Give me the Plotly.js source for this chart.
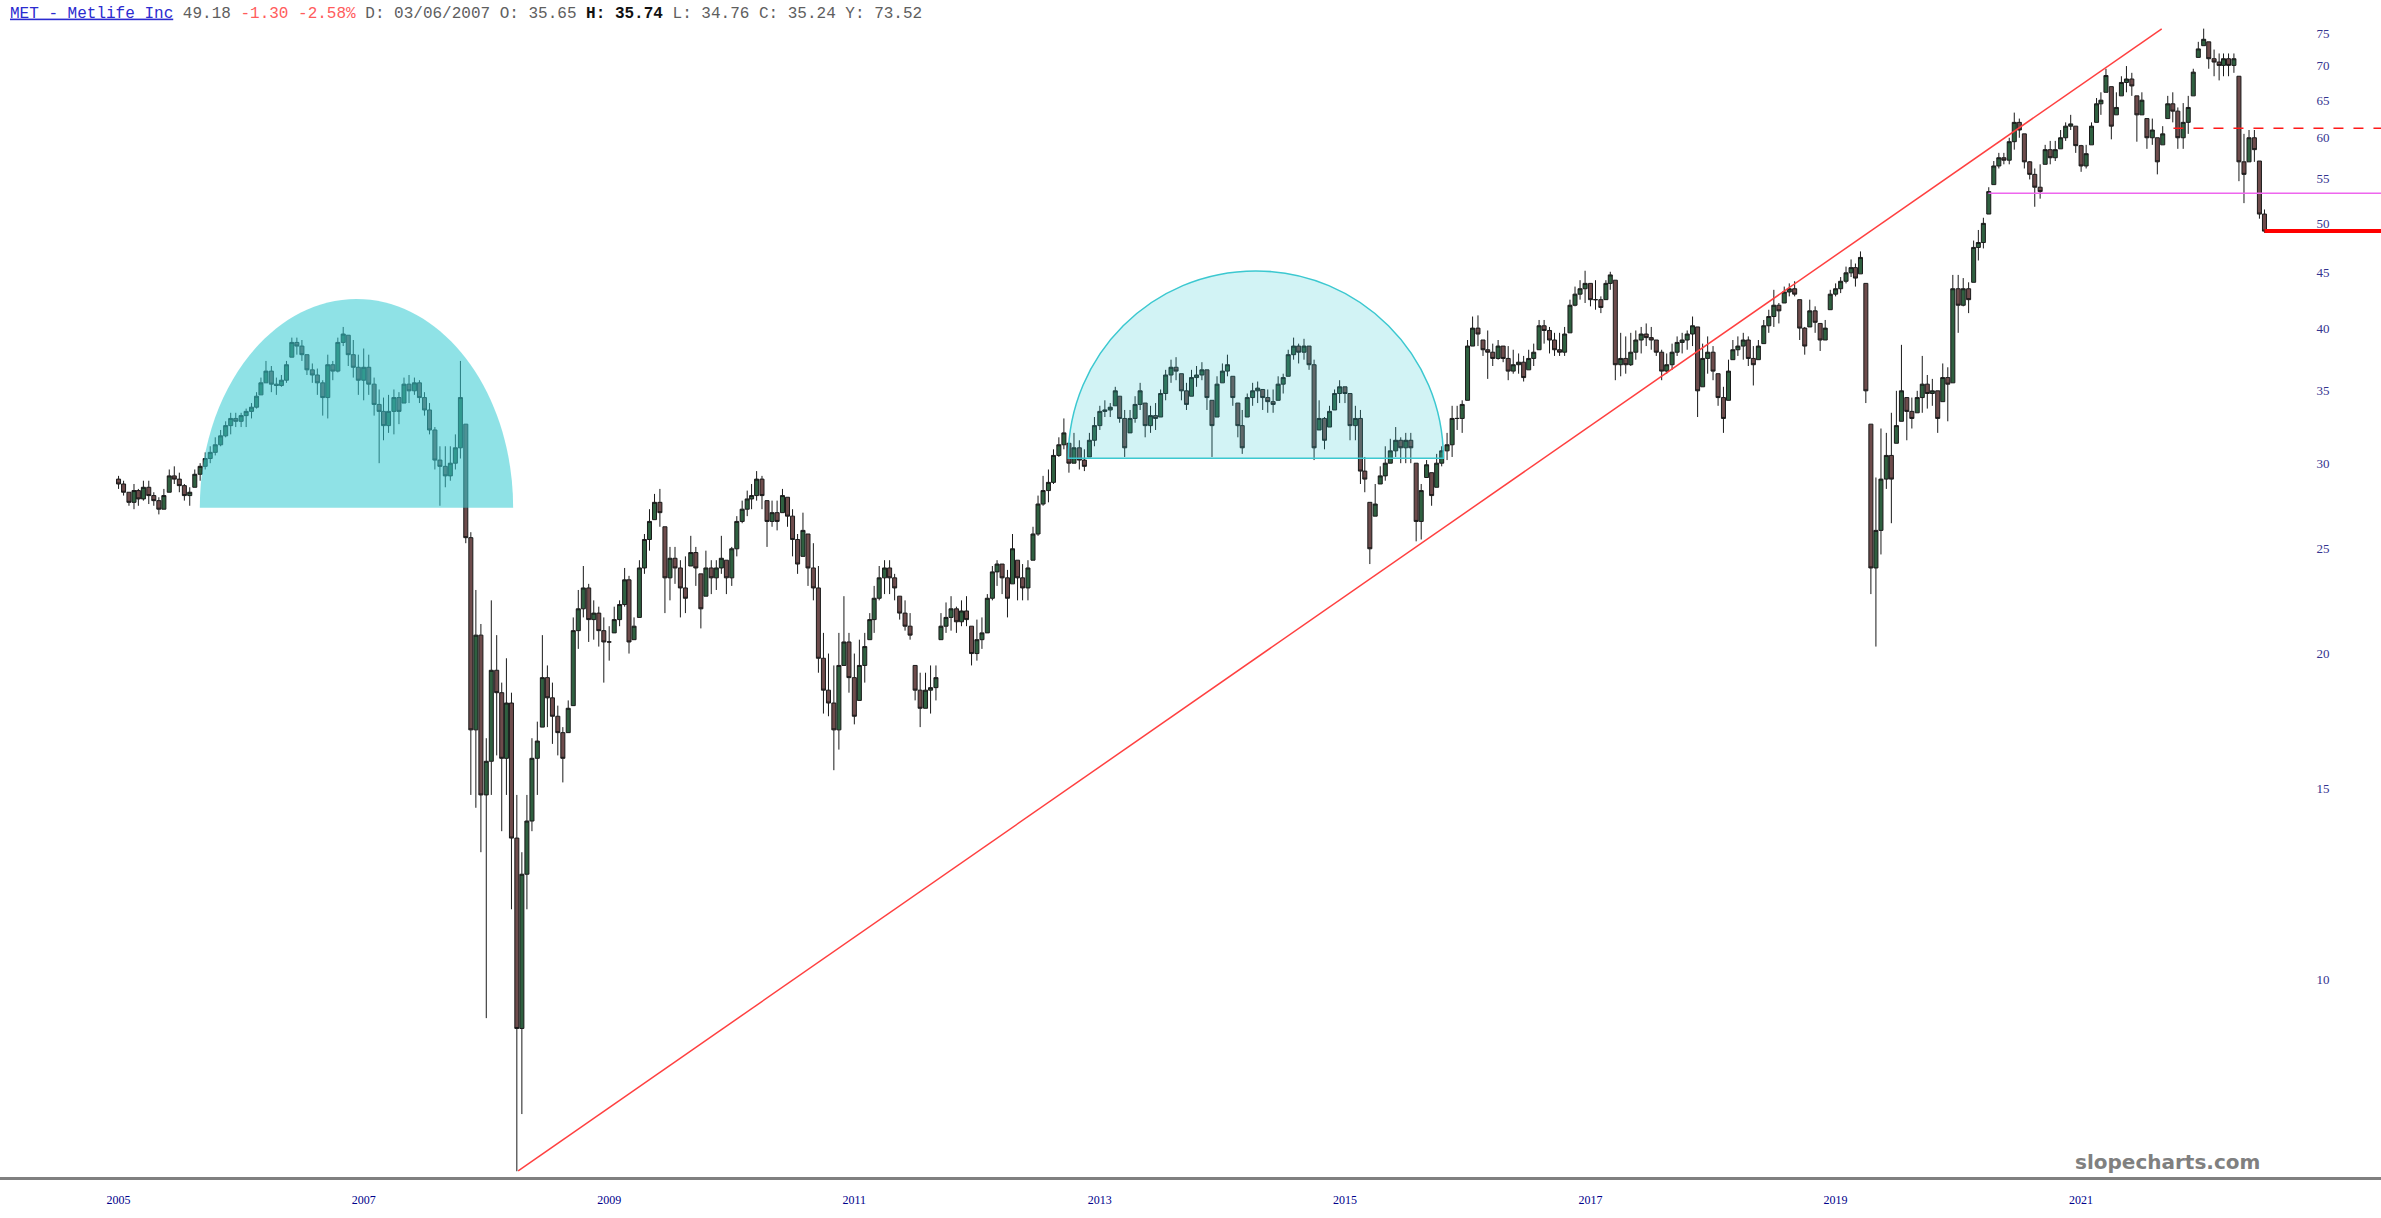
<!DOCTYPE html>
<html>
<head>
<meta charset="utf-8">
<script src="https://cdn.plot.ly/plotly-3.0.1.min.js"></script>
<style>
html,body{margin:0;padding:0;background:#ffffff;overflow:hidden}
#chart{width:2381px;height:1218px}
</style>
</head>
<body>
<div id="chart"></div>
<script>
// ---------- DATA ----------
// semi-monthly bars: 1st and 16th of each month, starting here
const firstBarDate = '2005-01-01';
const firstOpen = 29.0;

const barHigh = [
29.2,28.9,28.2,28.7,28.4,28.9,28.9,28.2,27.9,28.4,
29.6,29.8,29.4,28.7,28.5,29.6,30.0,30.7,31.1,31.7,
32.2,32.8,33.4,33.4,33.4,33.7,34.1,34.9,36.0,37.3,
36.9,36.0,36.2,37.3,39.2,39.2,39.0,37.8,37.1,36.7,
35.8,37.8,37.3,39.2,40.1,39.4,39.0,37.8,38.3,37.8,
36.0,35.1,34.5,34.7,35.1,34.9,36.0,36.2,36.0,35.8,
34.9,34.1,32.4,31.1,31.1,31.1,31.9,37.3,32.6,25.9,
22.9,21.3,16.7,22.4,20.8,18.8,19.8,18.4,14.8,13.1,
14.8,16.7,17.3,20.8,19.5,18.8,17.9,17.1,18.1,21.6,
22.9,24.1,23.2,22.4,22.1,21.6,21.2,22.1,22.4,24.0,
23.6,21.6,24.4,25.8,27.2,28.1,28.4,26.2,25.1,25.1,
24.4,24.6,25.7,25.1,23.7,24.9,24.4,24.4,25.7,24.4,
25.1,26.8,27.7,28.3,28.7,29.5,29.2,27.7,27.7,27.7,
28.4,27.9,27.2,25.8,27.0,25.8,25.3,24.1,20.9,20.0,
19.5,20.9,22.6,20.9,20.0,20.6,20.9,21.8,23.1,24.1,
24.4,24.4,23.7,22.6,22.4,21.8,19.5,19.2,19.2,19.5,
19.5,21.8,22.3,22.6,22.1,22.4,22.6,21.2,21.5,21.6,
22.7,24.1,24.4,24.2,23.9,25.8,24.4,24.2,24.4,26.2,
28.0,29.2,29.6,30.9,31.7,33.0,31.3,32.0,31.5,30.9,
32.0,33.1,33.9,34.3,34.1,35.3,34.6,33.6,33.6,34.6,
35.6,34.1,33.9,34.1,35.1,36.6,37.4,37.6,36.3,35.6,
36.6,36.9,37.2,36.6,34.3,36.1,37.1,37.8,36.1,34.1,
33.6,34.8,35.6,35.7,35.1,35.1,35.1,36.1,36.3,38.2,
39.2,38.7,39.1,38.5,37.4,34.3,33.1,33.9,35.1,35.8,
35.3,34.8,33.9,33.6,30.4,27.6,28.7,29.8,31.1,31.6,
32.4,31.7,32.0,32.0,30.0,28.7,30.2,29.4,30.6,31.1,
32.0,33.9,33.9,34.3,39.0,41.0,41.1,39.0,39.8,38.7,
39.0,38.5,38.5,38.2,37.9,37.7,38.2,38.7,40.7,40.7,
40.1,39.6,39.6,40.1,42.5,43.7,44.3,45.2,44.0,44.3,
42.8,44.3,45.1,44.3,39.6,39.3,39.6,39.8,40.1,40.4,
40.1,39.0,38.2,37.9,38.7,39.3,39.6,39.8,41.0,40.1,
38.7,39.3,38.5,36.3,35.3,37.4,39.0,39.3,39.6,39.3,
38.5,39.0,40.7,41.6,43.4,42.2,43.7,44.0,44.2,42.5,
40.1,42.5,41.9,40.4,40.7,43.4,44.0,44.6,45.6,46.3,
45.9,47.1,44.0,32.6,29.1,32.3,32.0,33.4,35.0,38.6,
34.5,34.5,35.0,37.7,36.2,35.9,35.0,37.1,36.8,44.8,
44.8,44.5,44.1,48.2,49.3,50.6,54.0,57.1,58.1,58.1,
60.0,63.3,62.5,60.5,57.1,56.2,56.7,59.1,59.6,59.6,
61.0,62.0,63.0,61.5,59.1,59.1,62.0,65.3,66.1,69.5,
66.9,66.1,68.4,69.9,68.9,65.6,66.1,62.5,62.5,60.0,
61.5,65.6,66.1,64.0,64.6,65.6,69.5,73.6,75.7,73.6,
72.4,71.8,71.8,71.8,71.8,68.4,60.5,61.0,61.0,57.1,
51.5
];

const barLow = [
28.4,28.0,27.4,27.2,27.4,27.7,27.5,27.4,26.9,27.2,
28.2,28.7,28.2,27.7,27.4,28.5,28.9,29.6,30.0,30.5,
31.1,31.7,31.9,32.4,32.4,32.4,33.0,33.7,34.7,35.6,
34.9,34.7,35.3,35.6,37.6,37.8,37.3,36.2,35.6,34.7,
33.2,33.0,35.8,36.4,38.5,36.9,36.0,34.7,34.3,34.7,
33.2,30.0,31.5,32.0,31.9,32.6,34.1,34.1,34.7,34.1,
33.2,31.9,29.6,27.4,28.5,28.9,29.6,30.3,25.3,14.8,
14.4,13.1,9.2,14.8,16.1,13.7,14.8,11.6,6.64,7.5,
11.6,13.7,14.8,17.1,17.1,16.5,16.1,15.2,16.9,17.9,
20.2,21.6,20.5,20.6,20.3,18.8,19.7,20.9,21.2,22.1,
20.0,20.6,21.6,23.7,24.9,26.6,26.2,21.8,22.4,23.2,
21.6,21.8,24.1,23.1,21.1,22.6,22.7,22.9,23.7,22.7,
23.1,24.6,26.4,26.8,27.2,27.7,27.2,25.1,26.2,26.0,
27.0,26.2,24.6,23.7,24.6,23.1,22.4,19.2,17.6,17.5,
15.6,16.3,19.5,18.4,17.2,18.1,18.8,20.6,20.9,22.4,
22.7,22.7,22.4,21.5,21.0,20.6,18.1,17.1,17.8,17.6,
18.1,20.6,20.9,21.0,20.9,21.2,21.2,19.5,19.7,20.2,
20.9,22.4,23.1,22.7,21.6,23.2,22.4,22.4,22.4,24.4,
25.7,27.4,27.6,28.7,30.4,30.9,29.4,30.0,29.6,29.5,
30.4,31.1,32.2,33.1,33.1,33.9,32.7,30.4,32.0,32.7,
33.6,31.7,32.0,32.2,33.1,34.3,35.6,35.8,34.3,33.6,
34.6,35.3,35.8,33.6,30.4,33.1,35.6,36.1,33.9,31.7,
30.6,33.1,33.9,34.1,33.6,33.4,33.4,34.3,34.8,36.1,
37.4,37.1,37.4,36.6,30.2,32.2,30.9,32.4,33.6,34.1,
34.1,31.5,31.5,28.7,28.2,24.2,26.8,28.7,28.9,30.0,
30.4,30.0,30.0,30.0,25.4,25.5,29.1,27.4,28.5,29.8,
30.2,30.4,32.2,32.0,34.3,38.5,38.5,37.7,35.9,36.9,
37.4,37.2,35.8,36.3,36.3,35.7,36.6,36.9,38.2,38.7,
37.9,37.7,37.7,37.7,39.6,41.9,42.5,42.2,41.9,41.6,
41.3,42.5,43.4,35.8,36.1,36.3,36.9,37.4,37.9,38.5,
38.2,37.7,35.8,36.3,36.6,37.7,37.9,38.2,38.5,33.1,
35.3,36.3,35.8,33.9,32.0,34.3,37.4,37.7,37.4,36.9,
35.4,37.4,38.7,39.6,40.1,40.4,42.2,42.8,42.8,39.0,
37.8,40.1,39.6,38.1,39.0,41.6,42.8,43.1,44.0,44.6,
43.7,44.9,34.1,22.7,20.3,24.7,28.4,26.4,31.3,32.8,
31.5,32.3,33.4,33.4,33.7,33.9,32.0,34.2,32.8,35.6,
39.6,41.9,41.3,44.1,46.2,47.4,51.0,54.3,56.2,56.7,
56.7,58.5,60.0,56.2,54.9,51.8,52.7,56.7,56.7,57.1,
58.6,59.6,61.0,58.1,55.8,56.2,59.1,62.0,63.0,66.1,
59.8,63.0,65.6,66.1,65.6,59.5,63.0,58.6,59.1,55.5,
59.1,62.5,62.0,58.6,58.6,60.5,65.6,71.2,73.0,69.5,
68.4,67.8,68.4,68.4,68.9,54.7,52.2,57.0,57.0,50.5,
49.0
];

const barClose = [
28.7,28.2,27.6,28.3,27.8,28.5,28.0,27.7,27.2,28.0,
29.2,29.0,28.6,28.0,28.2,29.3,29.8,30.3,30.7,31.2,
31.8,32.5,33.0,32.8,33.2,33.5,33.8,34.6,35.6,36.5,
35.5,35.4,35.8,37.0,38.8,38.5,37.8,36.6,36.2,35.6,
34.5,37.0,36.5,38.8,39.5,37.8,36.8,35.8,36.8,35.5,
34.0,33.5,32.5,33.5,34.5,33.5,35.5,35.0,35.6,34.5,
33.6,32.2,30.2,29.8,29.2,30.0,31.0,34.5,25.6,17.0,
20.8,14.8,15.9,19.3,18.4,16.0,18.0,13.5,9.0,12.5,
14.0,16.0,16.6,19.0,18.2,17.5,16.9,16.0,17.8,21.0,
22.0,23.0,21.5,21.8,21.0,20.5,20.5,21.5,22.2,23.4,
20.5,21.2,24.0,25.5,26.5,27.6,27.0,23.5,24.5,24.0,
23.0,22.5,24.8,24.0,22.0,24.0,23.5,24.0,24.5,23.5,
25.0,26.5,27.2,27.8,28.0,29.0,28.0,26.5,27.0,26.5,
28.0,26.8,25.5,24.2,26.0,24.0,23.0,19.8,18.5,18.0,
17.0,19.5,20.5,19.0,17.5,19.5,20.3,21.5,22.5,23.5,
24.0,23.5,23.0,21.8,21.2,20.8,18.5,17.8,18.5,18.6,
19.0,21.2,21.6,22.0,21.4,21.9,21.5,20.0,20.6,20.9,
22.5,23.8,24.2,23.5,22.5,25.0,23.5,23.0,24.0,25.8,
27.5,28.3,28.8,30.5,31.2,32.0,30.0,31.0,30.2,29.8,
31.5,32.5,33.5,33.6,33.8,35.0,33.0,31.0,33.0,34.0,
35.0,32.5,33.2,33.0,34.8,36.2,36.8,36.5,35.0,34.0,
36.0,36.2,36.6,34.5,32.5,35.5,36.5,37.0,34.5,32.5,
31.0,34.5,35.0,35.2,34.5,34.2,34.0,35.5,36.0,37.8,
38.5,38.0,38.5,37.0,31.0,33.0,31.5,33.5,34.8,35.3,
34.8,32.5,33.0,29.5,29.0,25.0,27.5,29.2,30.0,30.8,
31.5,31.0,31.5,31.0,26.5,28.3,29.9,28.0,30.0,30.8,
31.2,33.0,33.0,34.0,38.5,40.0,39.5,38.2,38.0,37.5,
38.5,37.5,36.5,37.0,37.2,36.0,37.5,38.0,40.2,39.8,
39.0,38.2,38.0,39.5,42.0,43.0,43.5,44.0,42.5,42.5,
41.8,44.0,44.8,37.0,37.5,37.0,38.0,39.0,39.5,39.2,
39.0,38.0,36.5,37.0,38.0,38.8,39.0,39.5,40.2,35.0,
37.5,38.0,36.5,34.5,33.0,36.5,38.2,38.5,39.0,37.5,
37.0,38.5,40.2,41.0,42.0,41.5,43.2,43.5,43.0,40.0,
38.5,41.5,40.5,39.0,40.0,43.0,43.5,44.2,45.0,45.5,
44.5,46.5,35.0,24.0,26.0,29.0,30.5,29.0,32.5,35.0,
33.5,33.0,34.5,35.5,34.8,35.0,33.0,36.0,35.5,43.5,
42.0,43.5,42.5,47.5,48.0,50.0,53.5,56.5,57.5,57.2,
59.5,62.0,61.0,57.0,55.5,54.0,53.5,58.5,57.5,58.5,
60.0,61.5,61.8,59.0,56.5,58.0,61.5,64.5,65.0,68.5,
61.5,64.0,67.5,68.0,67.0,63.0,65.0,60.0,61.0,57.0,
60.5,64.5,63.5,60.0,62.0,64.0,69.0,72.5,74.0,71.0,
70.5,70.0,71.0,70.0,71.0,57.0,55.5,60.0,58.5,51.0,
49.18
];

// axis ticks
const tickYears = ['2005','2007','2009','2011','2013','2015','2017','2019','2021'];
const priceTicks = [10,15,20,25,30,35,40,45,50,55,60,65,70,75];

// drawn studies
const trendDates = ['2008-04-05','2021-08-29'];
const trendValues = [6.645, 75.68];
const levelStarts = ['2021-10-03','2020-03-31','2022-07-01'];
const levelValues = [61.23, 53.31, 49.18];
const arcStarts = ['2005-08-31','2012-09-29'];
const arcEnds = ['2008-03-21','2015-10-21'];
const arcBases = [27.28, 30.32];
const arcTops = [42.57, 45.18];

// view window
const xStart = '2004-01-14';
const xEnd = '2023-06-13';

// ---------- BUILD ----------
const pad = n => String(n).padStart(2, '0');
const y0 = +firstBarDate.slice(0, 4);
const barDates = barClose.map((_, k) => {
  const y = y0 + Math.floor(k / 24);
  const m = Math.floor((k % 24) / 2) + 1;
  return y + '-' + pad(m) + '-' + (k % 2 === 0 ? '01' : '16');
});
const barOpen = barClose.map((c, k) => {
  const prev = k === 0 ? firstOpen : barClose[k - 1];
  return Math.min(barHigh[k], Math.max(barLow[k], prev));
});

function halfEllipse(d0, d1, base, top) {
  const t0 = Date.parse(d0 + 'T00:00:00Z'), t1 = Date.parse(d1 + 'T00:00:00Z');
  const tc = (t0 + t1) / 2, rx = (t1 - t0) / 2, K = 0.5523;
  const lb = Math.log(base), lt = Math.log(top);
  const fx = t => new Date(t).toISOString().slice(0, 19).replace('T', '_');
  const fy = l => Math.exp(l).toFixed(4);
  const lm = lb + K * (lt - lb);
  return 'M' + fx(t0) + ',' + fy(lb) +
    ' C' + fx(t0) + ',' + fy(lm) + ' ' + fx(tc - K * rx) + ',' + fy(lt) + ' ' + fx(tc) + ',' + fy(lt) +
    ' C' + fx(tc + K * rx) + ',' + fy(lt) + ' ' + fx(t1) + ',' + fy(lm) + ' ' + fx(t1) + ',' + fy(lb) + ' Z';
}

const traces = [
  {
    type: 'candlestick',
    x: barDates, open: barOpen, high: barHigh, low: barLow, close: barClose,
    increasing: {line: {color: '#1a1a1a', width: 1}, fillcolor: '#2f6040'},
    decreasing: {line: {color: '#1a1a1a', width: 1}, fillcolor: '#6e4c4c'},
    whiskerwidth: 0,
    hoverinfo: 'skip',
    showlegend: false
  },
  {
    type: 'scatter', mode: 'lines', x: trendDates, y: trendValues,
    line: {color: '#ff4040', width: 1.5}, hoverinfo: 'skip', showlegend: false
  },
  {
    type: 'scatter', mode: 'lines', x: [levelStarts[0], xEnd], y: [levelValues[0], levelValues[0]],
    line: {color: '#ff1a1a', width: 1.3, dash: '10px,10px'}, hoverinfo: 'skip', showlegend: false
  },
  {
    type: 'scatter', mode: 'lines', x: [levelStarts[1], xEnd], y: [levelValues[1], levelValues[1]],
    line: {color: '#ee66ee', width: 1.5}, hoverinfo: 'skip', showlegend: false
  },
  {
    type: 'scatter', mode: 'lines', x: [levelStarts[2], xEnd], y: [levelValues[2], levelValues[2]],
    line: {color: '#ff0000', width: 4}, hoverinfo: 'skip', showlegend: false
  }
];

const shapes = [
  {
    type: 'path', xref: 'x', yref: 'y', layer: 'above',
    path: halfEllipse(arcStarts[0], arcEnds[0], arcBases[0], arcTops[0]),
    fillcolor: 'rgba(51,202,210,0.55)', line: {width: 0}
  },
  {
    type: 'path', xref: 'x', yref: 'y', layer: 'above',
    path: halfEllipse(arcStarts[1], arcEnds[1], arcBases[1], arcTops[1]),
    fillcolor: 'rgba(51,202,210,0.22)', line: {color: '#3cc8d0', width: 1.5}
  }
];

const title = '<span style="color:#2b2bd0;text-decoration:underline">MET - Metlife Inc</span> 49.18 ' +
  '<span style="color:#ff5c5c">-1.30 -2.58%</span> D: 03/06/2007 O: 35.65 ' +
  '<b><span style="color:#111111">H: 35.74</span></b> L: 34.76 C: 35.24 Y: 73.52';

const layout = {
  width: 2381, height: 1218,
  paper_bgcolor: '#ffffff', plot_bgcolor: '#ffffff',
  margin: {l: 0, r: 0, t: 0, b: 41, pad: 0},
  showlegend: false,
  hovermode: false,
  boxgap: 0.08,
  boxgroupgap: 0,
  title: {
    text: title, x: 10 / 2381, xanchor: 'left', xref: 'container',
    y: 1 - 12 / 1218, yanchor: 'middle', yref: 'container',
    font: {family: 'Liberation Mono, Courier New, monospace', size: 16, color: '#5e5e5e'}
  },
  xaxis: {
    type: 'date', range: [xStart, xEnd],
    rangeslider: {visible: false},
    tickmode: 'array',
    tickvals: tickYears.map(y => y + '-01-01'),
    ticktext: tickYears,
    ticks: '', showgrid: false, zeroline: false,
    showline: true, linecolor: '#808080', linewidth: 3,
    tickfont: {family: 'Liberation Serif, Times New Roman, serif', size: 12, color: '#00008b'},
    ticklabelstandoff: 10
  },
  yaxis: {
    type: 'log',
    range: [Math.log10(6.559), Math.log10(80.46)],
    side: 'right', anchor: 'free', position: 0.9725,
    tickmode: 'array', tickvals: priceTicks, ticktext: priceTicks.map(String),
    ticks: '', showgrid: false, zeroline: false, showline: false,
    tickfont: {family: 'Liberation Serif, Times New Roman, serif', size: 13, color: '#33338f'}
  },
  shapes: shapes,
  annotations: [{
    text: '<b>slopecharts.com</b>', xref: 'paper', yref: 'paper',
    x: 2262 / 2381, xanchor: 'right', y: 1 - 1162 / 1177, yanchor: 'middle',
    showarrow: false,
    font: {family: 'DejaVu Sans, Verdana, sans-serif', size: 20, color: '#808080'}
  }]
};

Plotly.newPlot('chart', traces, layout, {displayModeBar: false, staticPlot: true});
</script>
</body>
</html>
